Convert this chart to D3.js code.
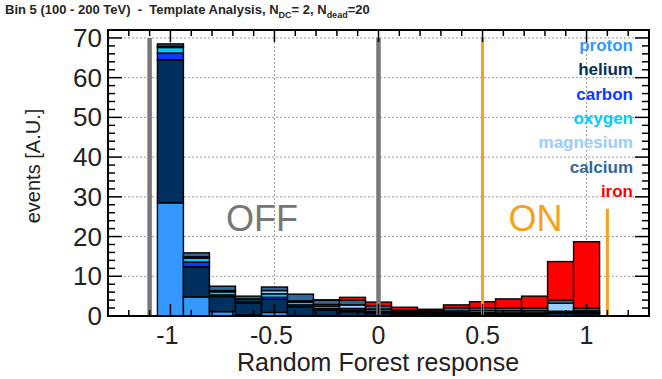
<!DOCTYPE html>
<html>
<head>
<meta charset="utf-8">
<script src="https://cdn.jsdelivr.net/npm/d3@7"></script>
<style>
  html, body { margin: 0; padding: 0; background: #fff; }
  svg { display: block; font-family: "Liberation Sans", Arial, sans-serif; }
</style>
</head>
<body>
<svg id="chart" width="662" height="379"></svg>
<script>
// Random Forest response histogram, stacked by primary species
const binCenters = [-1, -0.875, -0.75, -0.625, -0.5, -0.375, -0.25, -0.125, 0,
                    0.125, 0.25, 0.375, 0.5, 0.625, 0.75, 0.875, 1];
const binWidth = 0.125;

const proton    = [28.5, 4.8, 1.1, 0.3, 0.9, 0.1, 0.1, 0.1, 0.05, 0, 0, 0.05, 0.05, 0, 0, 0, 0];
const helium    = [36.0, 7.6, 3.8, 2.9, 3.3, 2.2, 1.4, 1.0, 0.6, 0.4, 0.3, 0.4, 0.4, 0.4, 0.4, 0.7, 0.6];
const carbon    = [1.7, 1.2, 0.4, 0.4, 0.5, 0.5, 0.4, 0.4, 0.3, 0.2, 0.2, 0.2, 0.2, 0.2, 0.2, 0.2, 0.2];
const oxygen    = [1.4, 1.0, 0.8, 0.5, 0.9, 0.7, 0.6, 0.4, 0.3, 0.2, 0.2, 0.2, 0.2, 0.2, 0.2, 0.3, 0.2];
const magnesium = [0.3, 0.3, 0.3, 0.2, 0.8, 0.3, 0.4, 0.9, 0.5, 0.3, 0.2, 0.4, 0.5, 0.5, 0.5, 2.0, 0.3];
const calcium   = [0.6, 1.0, 1.1, 0.7, 0.9, 1.7, 1.1, 1.2, 0.85, 0.4, 0.4, 0.85, 0.75, 0.7, 0.7, 0.8, 0.7];
const iron      = [0, 0, 0, 0, 0, 0, 0.05, 0.7, 0.9, 0.7, 0.4, 0.7, 1.5, 2.3, 3.0, 9.7, 16.7];

const species = ["proton", "helium", "carbon", "oxygen", "magnesium", "calcium", "iron"];
const speciesColors = ["#3399ff", "#00305e", "#0a3cff", "#00ccff", "#99ccff", "#336699", "#ff0000"];
const seriesValues = [proton, helium, carbon, oxygen, magnesium, calcium, iron];

const xTickValues = [-1, -0.5, 0, 0.5, 1];
const xTickLabels = ["-1", "-0.5", "0", "0.5", "1"];
const yTickValues = [0, 10, 20, 30, 40, 50, 60, 70];

// selection cuts: OFF region edges (gray) and ON region edges (orange)
const offCuts = [-1.1, 0];
const onCuts = [0.5, 1.1];
const onCutTops = [70, 27];

const svg = d3.select("#chart");
const plotL = 108, plotR = 649, plotT = 30, plotB = 316;

const x = d3.scaleLinear().domain([-1.3, 1.3]).range([plotL, plotR]);
const y = d3.scaleLinear().domain([0, 72]).range([plotB, plotT]);

// table for the stack
const rows = binCenters.map((c, i) => {
  const r = { center: c };
  species.forEach((s, k) => { r[s] = seriesValues[k][i]; });
  return r;
});
const stacked = d3.stack().keys(species)(rows);

// dotted grid
const grid = svg.append("g");
grid.selectAll("line.gy").data(yTickValues.filter(v => v > 0)).join("line")
  .attr("x1", plotL).attr("x2", plotR)
  .attr("y1", d => y(d)).attr("y2", d => y(d))
  .attr("stroke", "#9a9a9a").attr("stroke-width", 1).attr("stroke-dasharray", "2,2");
grid.selectAll("line.gx").data(xTickValues).join("line")
  .attr("y1", plotT).attr("y2", plotB)
  .attr("x1", d => x(d)).attr("x2", d => x(d))
  .attr("stroke", "#9a9a9a").attr("stroke-width", 1).attr("stroke-dasharray", "2,2");

// stacked bars
const bars = svg.append("g");
stacked.forEach((layer, k) => {
  bars.append("g").selectAll("rect").data(layer).join("rect")
    .attr("x", d => x(d.data.center - binWidth / 2))
    .attr("width", d => x(d.data.center + binWidth / 2) - x(d.data.center - binWidth / 2))
    .attr("y", d => y(d[1]))
    .attr("height", d => Math.max(0, y(d[0]) - y(d[1])))
    .attr("fill", speciesColors[k])
    .attr("stroke", "#000").attr("stroke-width", 1.4);
});

// cut lines
svg.append("g").selectAll("line").data(offCuts).join("line")
  .attr("x1", d => x(d)).attr("x2", d => x(d))
  .attr("y1", y(70)).attr("y2", plotB)
  .attr("stroke", "#787878").attr("stroke-width", 4.5);
svg.append("g").selectAll("line").data(onCuts).join("line")
  .attr("x1", d => x(d)).attr("x2", d => x(d))
  .attr("y1", (d, i) => y(onCutTops[i])).attr("y2", plotB)
  .attr("stroke", "#f4a21f").attr("stroke-width", 3);

// region labels
svg.append("text").attr("x", x(-0.56)).attr("y", y(21.5))
  .attr("text-anchor", "middle").attr("font-size", 36).attr("fill", "#777")
  .text("OFF");
svg.append("text").attr("x", x(0.755)).attr("y", y(21.5))
  .attr("text-anchor", "middle").attr("font-size", 36).attr("fill", "#f4a21f")
  .text("ON");

// frame and ticks on all four sides
const axes = svg.append("g").attr("stroke", "#000");
axes.append("rect").attr("x", plotL).attr("y", plotT)
  .attr("width", plotR - plotL).attr("height", plotB - plotT)
  .attr("fill", "none").attr("stroke-width", 2);

const yMinor = d3.range(0, 72.001, 2);
const xMinor = d3.range(-1.2, 1.3001, 0.1).map(v => Math.round(v * 10) / 10);
const isMajorY = v => Math.abs(v % 10) < 1e-6;
const isMajorX = v => Math.abs(v * 2 - Math.round(v * 2)) < 1e-6;

axes.selectAll("line.yl").data(yMinor).join("line")
  .attr("x1", plotL).attr("x2", d => plotL + (isMajorY(d) ? 14 : 7))
  .attr("y1", d => y(d)).attr("y2", d => y(d)).attr("stroke-width", 1.5);
axes.selectAll("line.yr").data(yMinor).join("line")
  .attr("x1", plotR).attr("x2", d => plotR - (isMajorY(d) ? 14 : 7))
  .attr("y1", d => y(d)).attr("y2", d => y(d)).attr("stroke-width", 1.5);
axes.selectAll("line.xb").data(xMinor).join("line")
  .attr("y1", plotB).attr("y2", d => plotB - (isMajorX(d) ? 12 : 6))
  .attr("x1", d => x(d)).attr("x2", d => x(d)).attr("stroke-width", 1.5);
axes.selectAll("line.xt").data(xMinor).join("line")
  .attr("y1", plotT).attr("y2", d => plotT + (isMajorX(d) ? 12 : 6))
  .attr("x1", d => x(d)).attr("x2", d => x(d)).attr("stroke-width", 1.5);

// tick labels
svg.append("g").selectAll("text").data(yTickValues).join("text")
  .attr("x", plotL - 6).attr("y", d => y(d) + 9)
  .attr("text-anchor", "end").attr("font-size", 26).attr("fill", "#222")
  .text(d => d);
svg.append("g").selectAll("text").data(xTickValues).join("text")
  .attr("x", (d, i) => x(d) - (xTickLabels[i].startsWith("-") ? 3 : 0))
  .attr("y", plotB + 28)
  .attr("text-anchor", "middle").attr("font-size", 25).attr("fill", "#222")
  .text((d, i) => xTickLabels[i]);

// axis titles
svg.append("text").attr("x", 378).attr("y", 371)
  .attr("text-anchor", "middle").attr("font-size", 25).attr("fill", "#222")
  .text("Random Forest response");
svg.append("text").attr("transform", "translate(40,166) rotate(-90)")
  .attr("text-anchor", "middle").attr("font-size", 20).attr("fill", "#222")
  .text("events [A.U.]");

// legend
svg.append("g").selectAll("text").data(species).join("text")
  .attr("x", 633).attr("y", (d, i) => 51 + i * 24.3)
  .attr("text-anchor", "end").attr("font-size", 17).attr("font-weight", "bold")
  .attr("fill", (d, i) => speciesColors[i])
  .text(d => d);

// title
const title = svg.append("text").attr("x", 5).attr("y", 14)
  .style("white-space", "pre")
  .attr("font-size", 13).attr("font-weight", "bold").attr("fill", "#262626");
title.append("tspan").text("Bin 5 (100 - 200 TeV)  -  Template Analysis, N");
title.append("tspan").attr("font-size", 9).attr("dy", 4).text("DC");
title.append("tspan").attr("dy", -4).text("= 2, N");
title.append("tspan").attr("font-size", 9).attr("dy", 4).text("dead");
title.append("tspan").attr("dy", -4).text("=20");
</script>
</body>
</html>
